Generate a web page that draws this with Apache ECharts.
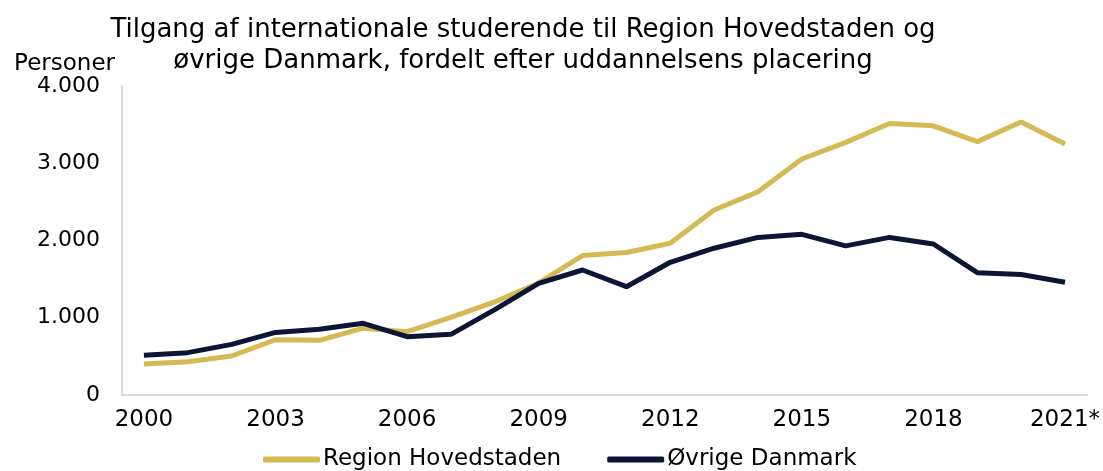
<!DOCTYPE html>
<html><head><meta charset="utf-8">
<script src="https://cdn.jsdelivr.net/npm/echarts@6/dist/echarts.min.js"></script>
<style>html,body{margin:0;padding:0;background:#fff}#c{width:1103px;height:471px}</style>
</head><body><div id="c"></div>
<script>
const years = ['2000','2001','2002','2003','2004','2005','2006','2007','2008','2009','2010','2011','2012','2013','2014','2015','2016','2017','2018','2019','2020','2021*'];
const regionHovedstaden = [400,430,505,715,708,865,820,1005,1205,1450,1805,1845,1965,2395,2630,3055,3270,3515,3485,3280,3535,3250];
const ovrigeDanmark = [515,548,655,810,850,928,755,785,1105,1445,1618,1402,1718,1900,2040,2080,1930,2040,1955,1583,1560,1460];
const title = 'Tilgang af internationale studerende til Region Hovedstaden og\nøvrige Danmark, fordelt efter uddannelsens placering';
const yName = 'Personer';
const font = 'DejaVu Sans';
const chart = echarts.init(document.getElementById('c'));
chart.setOption({
  animation:false,
  title:{text:title,left:518,textAlign:'center',top:10,textStyle:{fontFamily:font,fontSize:26,fontWeight:'normal',color:'#000',lineHeight:31}},
  grid:{left:122,right:15,top:86,bottom:76},
  legend:{top:443,left:258,itemWidth:57,itemHeight:6,itemGap:46,icon:'roundRect',
    textStyle:{fontFamily:font,fontSize:23,color:'#000',padding:[0,0,0,-2]},
    data:['Region Hovedstaden','Øvrige Danmark']},
  xAxis:{type:'category',data:years,boundaryGap:true,
    axisLine:{lineStyle:{color:'#d9d9d9',width:2}},axisTick:{show:false},
    axisLabel:{interval:2,fontFamily:font,fontSize:23,color:'#000',margin:14}},
  yAxis:{type:'value',min:0,max:4000,interval:1000,name:yName,nameLocation:'end',
    nameGap:8,nameTextStyle:{fontFamily:font,fontSize:23,color:'#000',align:'right',padding:[0,7,0,0]},
    axisLine:{show:true,lineStyle:{color:'#d9d9d9',width:2}},axisTick:{show:false},splitLine:{show:false},
    axisLabel:{fontFamily:font,fontSize:22,color:'#000',margin:22,
      formatter:v=>String(v).replace(/\B(?=(\d{3})+(?!\d))/g,'.')}},
  series:[
    {name:'Region Hovedstaden',type:'line',data:regionHovedstaden,symbol:'none',
      lineStyle:{color:'#D4B955',width:5},itemStyle:{color:'#D4B955'}},
    {name:'Øvrige Danmark',type:'line',data:ovrigeDanmark,symbol:'none',
      lineStyle:{color:'#0B1535',width:5},itemStyle:{color:'#0B1535'}}
  ]
});
</script></body></html>
